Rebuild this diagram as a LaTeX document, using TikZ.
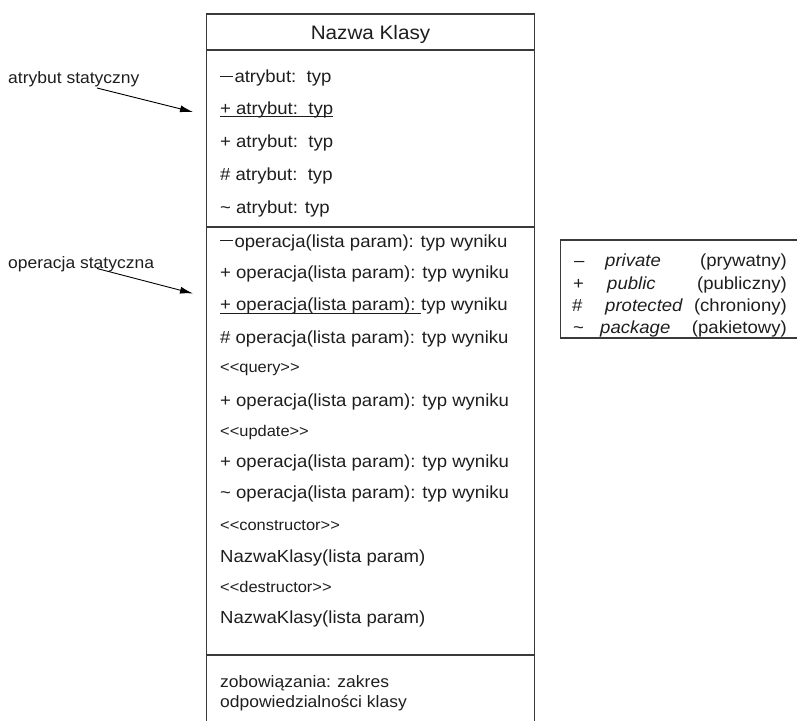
\documentclass[tikz,border=0pt]{standalone}
\usepackage{fontspec}
\setmainfont{Liberation Sans}
\newfontfamily\umlfont[FakeStretch=1.06]{Liberation Sans}
\usetikzlibrary{arrows.meta}
\definecolor{ink}{HTML}{1E1E1E}
\definecolor{frame}{HTML}{3A3A3A}
% private marker: a long dash sitting at dash height
\newcommand{\privmark}{\rule[5.6pt]{12.5pt}{1.1pt}\kern1.8pt}
\begin{document}
\begin{tikzpicture}[x=1pt,y=-1pt,
  member/.style={anchor=base west,inner sep=0pt,text=ink,font=\umlfont\fontsize{17.5}{20}\selectfont},
  stereo/.style={member,font=\umlfont\fontsize{15.5}{18}\selectfont},
  title/.style={anchor=base,inner sep=0pt,text=ink,font=\umlfont\fontsize{19.5}{22}\selectfont},
  note/.style={anchor=base west,inner sep=0pt,text=ink,font=\umlfont\fontsize{16.5}{19}\selectfont},
  legend/.style={anchor=base west,inner sep=0pt,text=ink,font=\umlfont\fontsize{17.5}{20}\selectfont},
  legendit/.style={legend,font=\umlfont\itshape\fontsize{17.5}{20}\selectfont},
  legendR/.style={legend,anchor=base east},
  boxline/.style={draw=frame,line width=1.3pt},
  uline/.style={draw=ink,line width=1pt},
  pointer/.style={draw=black,line width=0.9pt,-{Latex[length=13pt,width=7pt]}}]
\useasboundingbox (0,0) rectangle (797,721);

% class frame and compartment dividers
\draw[boxline] (206.5,721) -- (206.5,14) -- (534.5,14) -- (534.5,721);
\draw[boxline] (206.5,50) -- (534.5,50);
\draw[boxline] (206.5,227) -- (534.5,227);
\draw[boxline] (206.5,655) -- (534.5,655);

% class name
\node[title] (name) at (370.5,39.5) {Nazwa Klasy};

% attributes
\node[member] (a1) at (220,82.5) {\privmark atrybut:\ \ typ};
\node[member] (a2) at (220,114) {+ atrybut:\ \ typ};
\node[member] (a3) at (220,147) {+ atrybut:\ \ typ};
\node[member] (a4) at (220,180) {\# atrybut:\ \ typ};
\node[member] (a5) at (220,213) {\textasciitilde\ atrybut: typ};
\draw[uline] ([yshift=-2.5pt]a2.base west) -- ([yshift=-2.5pt]a2.base east);

% operations
\node[member] (o1) at (220,247) {\privmark operacja(lista param): typ wyniku};
\node[member] (o2) at (220,278.5) {+ operacja(lista param): typ wyniku};
\node[member] (o3a) at (220,310.5) {+ operacja(lista param):\ \mbox{}};
\node[member,anchor=base west] (o3b) at (o3a.base east) {typ wyniku};
\draw[uline] ([yshift=-2.5pt]o3a.base west) -- ([yshift=-2.5pt]o3a.base east);
\node[member] (o4) at (220,343) {\# operacja(lista param): typ wyniku};
\node[stereo] (s1) at (220,372) {<{}<query>{}>};
\node[member] (o5) at (220,406.5) {+ operacja(lista param): typ wyniku};
\node[stereo] (s2) at (220,436.5) {<{}<update>{}>};
\node[member] (o6) at (220,467) {+ operacja(lista param): typ wyniku};
\node[member] (o7) at (220,498.5) {\textasciitilde\ operacja(lista param): typ wyniku};
\node[stereo] (s3) at (220,530) {<{}<constructor>{}>};
\node[member] (c1) at (220,562) {NazwaKlasy(lista param)};
\node[stereo] (s4) at (220,592) {<{}<destructor>{}>};
\node[member] (c2) at (220,623.5) {NazwaKlasy(lista param)};

% responsibilities
\node[note] (r1) at (220,687) {zobowiązania: zakres};
\node[note] (r2) at (220,707) {odpowiedzialności klasy};

% annotations with pointers
\node[note] (lab1) at (8,83.5) {atrybut statyczny};
\node[note] (lab2) at (8,268) {operacja statyczna};
\coordinate (p1s) at (97,88);
\coordinate (p1e) at (193,112);
\coordinate (p2s) at (97,268.5);
\coordinate (p2e) at (193,293.5);
\draw[pointer] (p1s) -- (p1e);
\draw[pointer] (p2s) -- (p2e);

% visibility legend
\draw[boxline,line width=1.2pt] (800,240) -- (560.5,240) -- (560.5,338) -- (800,338);
\node[legend] (k1) at (574,266) {–};
\node[legendit] (v1) at (605,266) {private};
\node[legendR] (d1) at (787,266) {(prywatny)};
\node[legend] (k2) at (573,289) {+};
\node[legendit] (v2) at (607,289) {public};
\node[legendR] (d2) at (787,289) {(publiczny)};
\node[legend] (k3) at (572,311.5) {\#};
\node[legendit] (v3) at (605,311.5) {protected};
\node[legendR] (d3) at (787,311.5) {(chroniony)};
\node[legend] (k4) at (573,333) {\textasciitilde};
\node[legendit] (v4) at (600,333) {package};
\node[legendR] (d4) at (787,333) {(pakietowy)};
\end{tikzpicture}
\end{document}
